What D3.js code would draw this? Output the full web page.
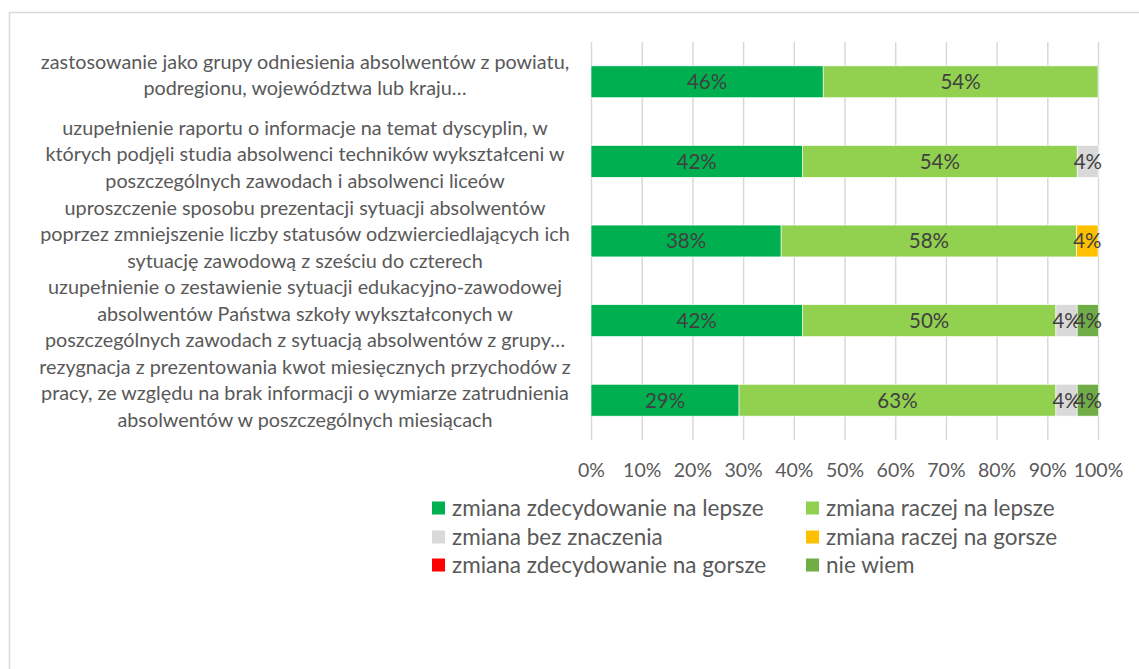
<!DOCTYPE html>
<html>
<head>
<meta charset="utf-8">
<script src="https://cdn.jsdelivr.net/npm/d3@7"></script>
<style>
  body { margin: 0; background: #fff; }
  svg { display: block; font-family: Lato, "Open Sans", sans-serif; }
</style>
</head>
<body>
<div id="chart"></div>
<script>
// categories, each one split into the lines shown on the chart
let categories = [
  ["zastosowanie jako grupy odniesienia absolwentów z powiatu,",
   "podregionu, województwa lub kraju…"],
  ["uzupełnienie raportu o informacje na temat dyscyplin, w",
   "których podjęli studia absolwenci techników wykształceni w",
   "poszczególnych zawodach i absolwenci liceów"],
  ["uproszczenie sposobu prezentacji sytuacji absolwentów",
   "poprzez zmniejszenie liczby statusów odzwierciedlających ich",
   "sytuację zawodową z sześciu do czterech"],
  ["uzupełnienie o zestawienie sytuacji edukacyjno-zawodowej",
   "absolwentów Państwa szkoły wykształconych w",
   "poszczególnych zawodach z sytuacją absolwentów z grupy…"],
  ["rezygnacja z prezentowania kwot miesięcznych przychodów z",
   "pracy, ze względu na brak informacji o wymiarze zatrudnienia",
   "absolwentów w poszczególnych miesiącach"]
];

let seriesNames = [
  "zmiana zdecydowanie na lepsze",
  "zmiana raczej na lepsze",
  "zmiana bez znaczenia",
  "zmiana raczej na gorsze",
  "zmiana zdecydowanie na gorsze",
  "nie wiem"
];

// values in %, one list per series, same order as categories
let decLepsze  = [45.8, 41.7, 37.5, 41.7, 29.2];
let raczLepsze = [54.2, 54.2, 58.3, 50.0, 62.5];
let bezZnacz   = [0, 4.2, 0, 4.2, 4.2];
let raczGorsze = [0, 0, 4.2, 0, 0];
let decGorsze  = [0, 0, 0, 0, 0];
let nieWiem    = [0, 0, 0, 4.2, 4.2];

let xTicks = [0, 10, 20, 30, 40, 50, 60, 70, 80, 90, 100];

let colors = ["#00B050", "#92D050", "#D9D9D9", "#FFC000", "#FF0000", "#70AD47"];

let svgWidth = 1139;
let svgHeight = 669;

let svg = d3.select("#chart")
  .append("svg")
  .attr("width", svgWidth)
  .attr("height", svgHeight);

// chart frame (runs off the right and bottom edge)
svg.append("rect")
  .attr("x", 9.5)
  .attr("y", 12.5)
  .attr("width", 1200)
  .attr("height", 700)
  .attr("fill", "none")
  .attr("stroke", "#d9d9d9")
  .attr("stroke-width", 1.5);

// build table for the stack
let allSeries = [decLepsze, raczLepsze, bezZnacz, raczGorsze, decGorsze, nieWiem];
let table = categories.map((c, i) => {
  let row = { idx: i };
  seriesNames.forEach((s, j) => row[s] = allSeries[j][i]);
  return row;
});

let stacked = d3.stack().keys(seriesNames)(table);

let x = d3.scaleLinear()
  .domain([0, 100])
  .range([591, 1098]);

let y = d3.scaleBand()
  .domain(categories.map((c, i) => i))
  .range([42, 440])
  .paddingInner(0.6)
  .paddingOuter(0.3);

// x axis + vertical gridlines
let xAxis = svg.append("g")
  .attr("transform", "translate(0, 440)")
  .call(d3.axisBottom(x)
    .tickValues(xTicks)
    .tickSize(-398)
    .tickPadding(23)
    .tickFormat(d => d + "%"));

xAxis.select(".domain").remove();
xAxis.selectAll("line")
  .attr("stroke", "#d9d9d9")
  .attr("stroke-width", 1.5);
xAxis.selectAll("text")
  .attr("fill", "#595959")
  .attr("font-size", 19.5)
  .attr("font-family", "Lato");

// bars
let groups = svg.append("g")
  .selectAll("g")
  .data(stacked)
  .enter()
  .append("g")
  .attr("fill", (d, i) => colors[i]);

groups.selectAll("rect")
  .data(d => d.filter(p => p[1] - p[0] > 0))
  .enter()
  .append("rect")
  .attr("x", d => x(d[0]))
  .attr("y", d => y(d.data.idx))
  .attr("width", d => x(d[1]) - x(d[0]))
  .attr("height", y.bandwidth())
  .attr("stroke", "#fff")
  .attr("stroke-width", 0.6);

// data labels
groups.selectAll("text")
  .data(d => d.filter(p => p[1] - p[0] > 0))
  .enter()
  .append("text")
  .attr("x", d => (x(d[0]) + x(d[1])) / 2)
  .attr("y", d => y(d.data.idx) + y.bandwidth() / 2)
  .attr("dy", "0.36em")
  .attr("text-anchor", "middle")
  .attr("fill", "#404040")
  .attr("font-size", 20.5)
  .text(d => Math.round(d[1] - d[0]) + "%");

// category labels, centred, several lines each
let lineH = 26.5;
let catLabels = svg.append("g")
  .selectAll("text")
  .data(categories)
  .enter()
  .append("text")
  .attr("text-anchor", "middle")
  .attr("fill", "#595959")
  .attr("font-size", 19.8)
  .attr("y", (d, i) => y(i) + y.bandwidth() / 2 - (d.length - 1) * lineH / 2)
  .attr("dy", "0.35em");

catLabels.selectAll("tspan")
  .data(d => d)
  .enter()
  .append("tspan")
  .attr("x", 305)
  .attr("dy", (d, i) => i === 0 ? 0 : lineH)
  .text(d => d);

// legend, two columns three rows
let legendCols = [432, 806];
let legendRows = [508, 537, 565];

let legend = svg.append("g")
  .selectAll("g")
  .data(seriesNames)
  .enter()
  .append("g")
  .attr("transform", (d, i) => `translate(${legendCols[i % 2]}, ${legendRows[Math.floor(i / 2)]})`);

legend.append("rect")
  .attr("x", 0)
  .attr("y", -6.5)
  .attr("width", 13)
  .attr("height", 13)
  .attr("fill", (d, i) => colors[i]);

legend.append("text")
  .attr("x", 20)
  .attr("dy", "0.35em")
  .attr("fill", "#595959")
  .attr("font-size", 22.5)
  .text(d => d);
</script>
</body>
</html>
